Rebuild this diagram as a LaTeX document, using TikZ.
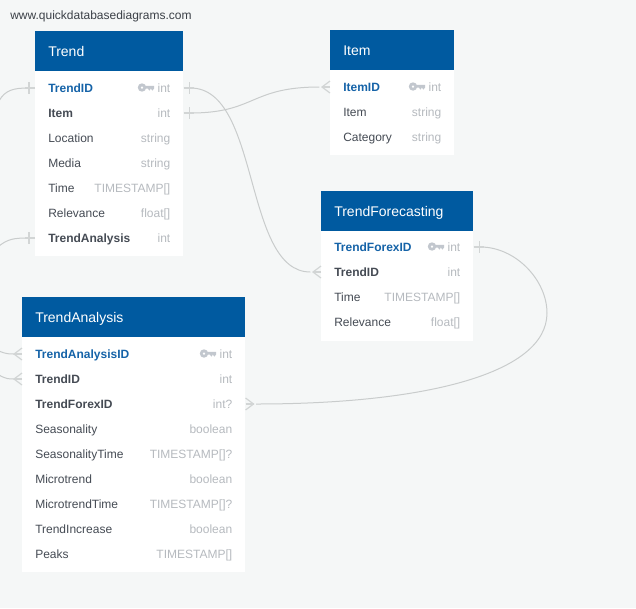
\documentclass[tikz,border=0pt]{standalone}
\usepackage{fontspec}
\setmainfont{Liberation Sans}
\definecolor{pagebg}{HTML}{F5F7F7}
\definecolor{headblue}{HTML}{005AA0}
\definecolor{pkblue}{HTML}{1563A8}
\definecolor{fieldgray}{HTML}{454B54}
\definecolor{typegray}{HTML}{B6BABF}
\definecolor{keygray}{HTML}{C2C7CE}
\definecolor{linkgray}{HTML}{C9CCCC}
\definecolor{stubgray}{HTML}{D2D5D5}
\tikzset{
	head/.style={fill=headblue,draw=none,inner sep=0pt,anchor=north west},
	body/.style={fill=white,draw=none,inner sep=0pt,anchor=north west},
	title/.style={text=white,font=\fontsize{10.5pt}{12pt}\selectfont,inner sep=0pt,anchor=west,text height=9pt,text depth=1.5pt},
	txt/.style={font=\fontsize{9pt}{11pt}\selectfont,inner sep=0pt,text height=8pt,text depth=1.6pt},
	plain/.style={txt,anchor=west,text=fieldgray},
	fk/.style={plain,font=\fontsize{9pt}{11pt}\selectfont\bfseries},
	pk/.style={fk,text=pkblue},
	typ/.style={txt,anchor=east,text=typegray,xshift=0.4pt},
	link/.style={linkgray,line width=0.75pt},
	stub/.style={stubgray,line width=0.9pt},
	keyicon/.pic={\fill[keygray,even odd rule] (0,0) circle (4.2) (0,0) circle (1.5);
		\fill[keygray] (3,-1.6)--(12,-1.6)--(12,1)--(10.4,3.2)--(8.9,1)--(7.4,3.2)--(5.9,1)--(3,1)--cycle;},
}
\begin{document}
\begin{tikzpicture}[x=0.75pt,y=-0.75pt]
	\fill[pagebg] (0,0) rectangle (636,608);
	\useasboundingbox (0,0) rectangle (636,608);
	\clip (0,0) rectangle (636,608);
	\node[font=\fontsize{9pt}{11pt}\selectfont,text=fieldgray!85!black,inner sep=0pt,anchor=west] (site) at (10,16) {www.quickdatabasediagrams.com};
	% Trend
	\node[body,minimum width=111pt,minimum height=168.75pt] (trendbody) at (35,31) {};
	\node[head,minimum width=111pt,minimum height=30pt] (trendhead) at (35,31) {};
	\node[title] (trendtitle) at (48,51) {Trend};
	\foreach \nm/\lbl/\tp/\yy/\sty in {trendid/TrendID/int/88/pk,trenditem/Item/int/113/fk,trendloc/Location/string/138/plain,trendmedia/Media/string/163/plain,trendtime/Time/TIMESTAMP[]/188/plain,trendrel/Relevance/float[]/213/plain,trendana/TrendAnalysis/int/238/fk}{
		\node[\sty] (\nm) at (48,\yy) {\lbl};
		\node[typ] (\nm t) at (170,\yy) {\tp};
	}
	\pic at (142,87.5) {keyicon};
	% Item
	\node[body,minimum width=93pt,minimum height=93.75pt] (itembody) at (330,30) {};
	\node[head,minimum width=93pt,minimum height=30pt] (itemhead) at (330,30) {};
	\node[title] (itemtitle) at (343,50) {Item};
	\foreach \nm/\lbl/\tp/\yy/\sty in {itemid/ItemID/int/87/pk,itemname/Item/string/112/plain,itemcat/Category/string/137/plain}{
		\node[\sty] (\nm) at (343,\yy) {\lbl};
		\node[typ] (\nm t) at (441,\yy) {\tp};
	}
	\pic at (413,86.5) {keyicon};
	% TrendForecasting
	\node[body,minimum width=114pt,minimum height=112.5pt] (forebody) at (321,191) {};
	\node[head,minimum width=114pt,minimum height=30pt] (forehead) at (321,191) {};
	\node[title] (foretitle) at (334,211) {TrendForecasting};
	\foreach \nm/\lbl/\tp/\yy/\sty in {foreid/TrendForexID/int/247/pk,foretrend/TrendID/int/272/fk,foretime/Time/TIMESTAMP[]/297/plain,forerel/Relevance/float[]/322/plain}{
		\node[\sty] (\nm) at (334,\yy) {\lbl};
		\node[typ] (\nm t) at (460,\yy) {\tp};
	}
	\pic at (432,246.5) {keyicon};
	% TrendAnalysis
	\node[body,minimum width=167.25pt,minimum height=206.25pt] (anabody) at (22,297) {};
	\node[head,minimum width=167.25pt,minimum height=30pt] (anahead) at (22,297) {};
	\node[title] (anatitle) at (35,317) {TrendAnalysis};
	\foreach \nm/\lbl/\tp/\yy/\sty in {anaid/TrendAnalysisID/int/354/pk,anatrend/TrendID/int/379/fk,anafore/TrendForexID/int?/404/fk,anasea/Seasonality/boolean/429/plain,anaseat/SeasonalityTime/TIMESTAMP[]?/454/plain,anamic/Microtrend/boolean/479/plain,anamict/MicrotrendTime/TIMESTAMP[]?/504/plain,anainc/TrendIncrease/boolean/529/plain,anapeak/Peaks/TIMESTAMP[]/554/plain}{
		\node[\sty] (\nm) at (35,\yy) {\lbl};
		\node[typ] (\nm t) at (232,\yy) {\tp};
	}
	\pic at (204,353.5) {keyicon};
	% free ends, left of the page
	\coordinate (offa) at (-1,101);
	\coordinate (offb) at (-1,246);
	\coordinate (offc) at (-1,351);
	\coordinate (offd) at (-1,375);
	% connectors
	\draw[link] (trendbody.east|-trendid.west) ++(7,0) .. controls +(70,0) and (243,272) .. ([xshift=-8]forebody.west|-foretrend.west);
	\draw[link] (trendbody.east|-trenditem.west) ++(7,0) .. controls +(65,0) and (250,87) .. ([xshift=-8]itembody.west|-itemid.west);
	\draw[link] (forebody.east|-foreid.west) ++(7,0) .. controls +(35,0) and (547,280) .. (547,313) .. controls (547,375) and (420,404) .. ([xshift=8]anabody.east|-anafore.west);
	\draw[link] (trendbody.west|-trendid.west) ++(-7,0) .. controls +(-14,0) and (5,90) .. (offa);
	\draw[link] (trendbody.west|-trendana.west) ++(-7,0) .. controls +(-14,0) and (8,239) .. (offb);
	\draw[link] (anabody.west|-anaid.west) ++(-8,0) .. controls +(-5,0) and (6,354) .. (offc);
	\draw[link] (anabody.west|-anatrend.west) ++(-8,0) .. controls +(-5,0) and (6,379) .. (offd);
	% bars
	\foreach \nd in {trendid,trenditem}{
		\draw[stub] (trendbody.east|-\nd.west) -- ++(10,0);
		\draw[stub] (trendbody.east|-\nd.west) ++(6,-6) -- ++(0,12);
	}
	\draw[stub] (forebody.east|-foreid.west) -- ++(10,0) ++(-4,-6) -- ++(0,12);
	\foreach \nd in {trendid,trendana}{
		\draw[stub] (trendbody.west|-\nd.west) -- ++(-10,0) ++(4,-6) -- ++(0,12);
	}
	% crow feet
	\foreach \pt/\sgn in {{itembody.west|-itemid.west}/-1,{forebody.west|-foretrend.west}/-1,{anabody.west|-anaid.west}/-1,{anabody.west|-anatrend.west}/-1,{anabody.east|-anafore.west}/1}{
		\draw[stub] (\pt) ++(0,-6) -- ++(\sgn*8,6) -- ++(-\sgn*8,6);
		\draw[stub] (\pt) -- ++(\sgn*8,0);
	}
\end{tikzpicture}
\end{document}
